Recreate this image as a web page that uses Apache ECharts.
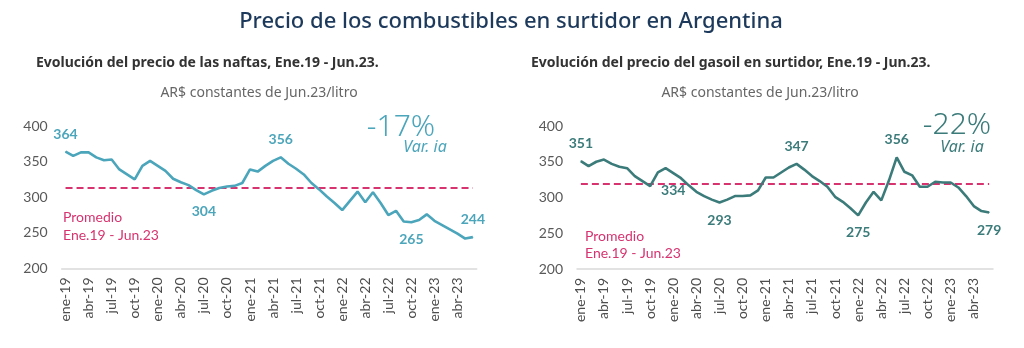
<!DOCTYPE html>
<html>
<head>
<meta charset="utf-8">
<script src="https://cdn.jsdelivr.net/npm/echarts@6/dist/echarts.min.js"></script>
<style>
  html, body { margin: 0; padding: 0; background: #ffffff; }
  #chart { width: 1024px; height: 348px; }
</style>
</head>
<body>
<div id="chart"></div>
<script>
// Month abbreviations and years used to build the category axis (ene-19 ... jun-23)
const monthNames = ['ene', 'feb', 'mar', 'abr', 'may', 'jun', 'jul', 'ago', 'sep', 'oct', 'nov', 'dic'];
const years = ['19', '20', '21', '22', '23'];

// Naftas: AR$ constantes de Jun.23 por litro
const naftas = [364, 358, 363, 363, 356, 352, 353, 339, 332, 325,
                344, 351, 344, 337, 326, 321, 317, 310, 304, 309,
                313, 315, 316, 320, 339, 336, 344, 351, 356, 347,
                340, 332, 320, 311, 301, 292, 282, 295, 308, 293,
                307, 292, 275, 281, 266, 265, 268, 276, 267, 261,
                255, 249, 242, 244];

// Gasoil: AR$ constantes de Jun.23 por litro
const gasoil = [351, 344, 350, 353, 347, 343, 341, 330, 323, 316,
                335, 341, 334, 327, 317, 308, 302, 297, 293, 297,
                302, 302, 303, 310, 328, 328, 335, 342, 347, 339,
                330, 323, 315, 301, 294, 285, 275, 293, 308, 296,
                324, 356, 336, 331, 315, 315, 322, 321, 321, 314,
                302, 288, 281, 279];

// Average over the whole period
const promedio = [313, 319];

// Year-on-year variation
const variacion = ['-17%', '-22%'];

// Points carrying a value label (above / below the line)
const naftasTop = [0, 28, 53];
const naftasBottom = [18, 45];
const gasoilTop = [0, 28, 41];
const gasoilBottom = [12, 18, 36, 53];

const categories = [];
years.forEach(function (y) {
  monthNames.forEach(function (m, mi) {
    if (y === '23' && mi > 5) return;
    categories.push(m + '-' + y);
  });
});

const colNaftas = '#4ba5bb';
const colGasoil = '#3b7b7a';
const colProm = '#d6336f';
const axisFont = 'Lato, "Liberation Sans", sans-serif';
const uiFont = '"Noto Sans", "Open Sans", sans-serif';

function buildData(values, top, bottom, color) {
  return values.map(function (v, i) {
    const item = { value: v };
    if (top.indexOf(i) >= 0 || bottom.indexOf(i) >= 0) {
      item.label = {
        show: true,
        position: top.indexOf(i) >= 0 ? 'top' : 'bottom',
        distance: 10,
        color: color,
        fontFamily: axisFont,
        fontWeight: 'bold',
        fontSize: 14
      };
    }
    return item;
  });
}

function xAxisFor(idx) {
  return {
    type: 'category',
    gridIndex: idx,
    data: categories,
    boundaryGap: true,
    axisLine: { show: true, lineStyle: { color: '#d9d9d9', width: 1.5 } },
    axisTick: { show: false },
    axisLabel: {
      interval: 2,
      rotate: 90,
      margin: 9,
      color: '#4d4d4d',
      fontFamily: axisFont,
      fontSize: 14
    },
    splitLine: { show: false }
  };
}

function yAxisFor(idx) {
  return {
    type: 'value',
    gridIndex: idx,
    min: 200,
    max: 400,
    interval: 50,
    axisLine: { show: false },
    axisTick: { show: false },
    splitLine: { show: false },
    axisLabel: {
      margin: 14,
      color: '#595959',
      fontFamily: axisFont,
      fontSize: 14
    }
  };
}

function lineSeries(idx, name, values, top, bottom, color, avg) {
  return {
    type: 'line',
    name: name,
    xAxisIndex: idx,
    yAxisIndex: idx,
    data: buildData(values, top, bottom, color),
    symbol: 'circle',
    symbolSize: 1,
    showSymbol: true,
    itemStyle: { color: color },
    lineStyle: { color: color, width: 2.6 },
    emphasis: { disabled: true },
    animation: false,
    z: 3,
    markLine: {
      silent: true,
      symbol: ['none', 'none'],
      label: { show: false },
      lineStyle: { color: colProm, width: 2, type: [7, 4] },
      data: [[
        { coord: [categories[0], avg] },
        { coord: [categories[categories.length - 1], avg] }
      ]],
      z: 2
    }
  };
}

function text(x, y, str, style) {
  return {
    type: 'text',
    x: x,
    y: y,
    silent: true,
    style: Object.assign({
      text: str,
      align: 'center',
      verticalAlign: 'middle'
    }, style)
  };
}

const chart = echarts.init(document.getElementById('chart'), null, { renderer: 'canvas' });

chart.setOption({
  animation: false,
  backgroundColor: '#ffffff',
  grid: [
    { left: 61.7, top: 126, width: 415, height: 142.5 },
    { left: 577, top: 126, width: 416, height: 143 }
  ],
  xAxis: [xAxisFor(0), xAxisFor(1)],
  yAxis: [yAxisFor(0), yAxisFor(1)],
  series: [
    lineSeries(0, 'Naftas', naftas, naftasTop, naftasBottom, colNaftas, promedio[0]),
    lineSeries(1, 'Gasoil', gasoil, gasoilTop, gasoilBottom, colGasoil, promedio[1])
  ],
  graphic: [
    text(511, 22, 'Precio de los combustibles en surtidor en Argentina', {
      fill: '#1d3a5c', fontFamily: uiFont, fontSize: 22, fontWeight: 500
    }),
    text(36, 63, 'Evolución del precio de las naftas, Ene.19 - Jun.23.', {
      align: 'left', fill: '#333333', fontFamily: uiFont, fontSize: 14, fontWeight: 'bold'
    }),
    text(531, 63, 'Evolución del precio del gasoil en surtidor, Ene.19 - Jun.23.', {
      align: 'left', fill: '#333333', fontFamily: uiFont, fontSize: 14, fontWeight: 'bold'
    }),
    text(259, 93, 'AR$ constantes de Jun.23/litro', {
      fill: '#666666', fontFamily: uiFont, fontSize: 14
    }),
    text(760, 93, 'AR$ constantes de Jun.23/litro', {
      fill: '#666666', fontFamily: uiFont, fontSize: 14
    }),
    text(401, 127, variacion[0], {
      fill: colNaftas, fontFamily: uiFont, fontSize: 30, fontWeight: 300
    }),
    text(425, 147, 'Var. ia', {
      fill: colNaftas, fontFamily: uiFont, fontSize: 16, fontStyle: 'italic'
    }),
    text(957, 125, variacion[1], {
      fill: colGasoil, fontFamily: uiFont, fontSize: 30, fontWeight: 300
    }),
    text(962, 147, 'Var. ia', {
      fill: colGasoil, fontFamily: uiFont, fontSize: 16, fontStyle: 'italic'
    }),
    text(63, 217.5, 'Promedio', {
      align: 'left', fill: colProm, fontFamily: axisFont, fontSize: 14
    }),
    text(63, 235, 'Ene.19 - Jun.23', {
      align: 'left', fill: colProm, fontFamily: axisFont, fontSize: 14
    }),
    text(585, 236, 'Promedio', {
      align: 'left', fill: colProm, fontFamily: axisFont, fontSize: 14
    }),
    text(585, 253.5, 'Ene.19 - Jun.23', {
      align: 'left', fill: colProm, fontFamily: axisFont, fontSize: 14
    })
  ]
});
</script>
</body>
</html>
